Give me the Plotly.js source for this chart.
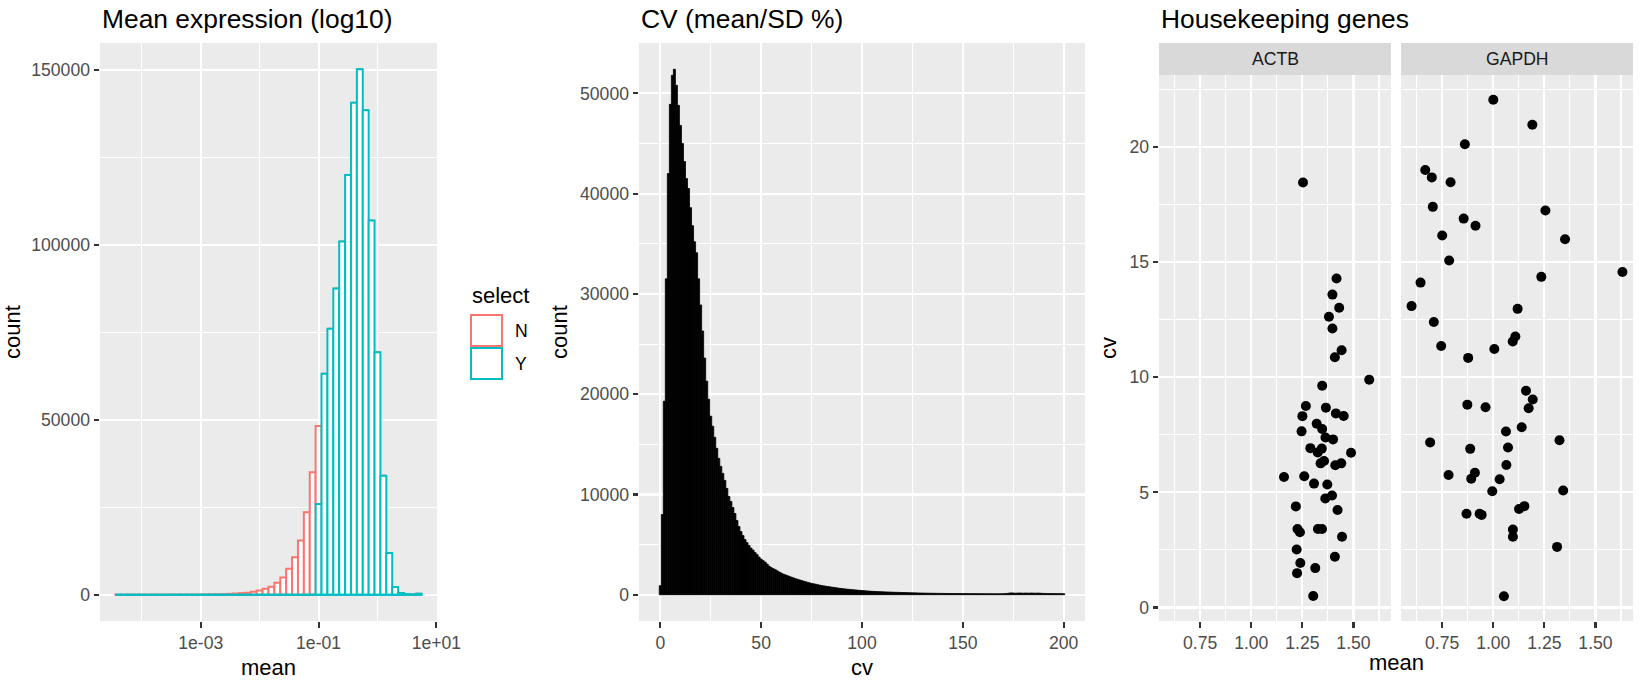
<!DOCTYPE html>
<html>
<head>
<meta charset="utf-8">
<script src="https://cdn.plot.ly/plotly-3.0.1.min.js"></script>
<style>
html,body{margin:0;padding:0;background:#fff;}
#chart{width:1642px;height:682px;}
</style>
</head>
<body>
<div id="chart"></div>
<script>
// ---------------- DATA ----------------
// Panel 1: histogram of log10(mean), bin centres (log10 units, bin width 0.1)
const meanBinCenters = [-4.4,-4.3,-4.2,-4.1,-4.0,-3.9,-3.8,-3.7,-3.6,-3.5,
  -3.4,-3.3,-3.2,-3.1,-3.0,-2.9,-2.8,-2.7,-2.6,-2.5,
  -2.4,-2.3,-2.2,-2.1,-2.0,-1.9,-1.8,-1.7,-1.6,-1.5,
  -1.4,-1.3,-1.2,-1.1,-1.0,-0.9,-0.8,-0.7,-0.6,-0.5,
  -0.4,-0.3,-0.2,-0.1,0.0,0.1,0.2,0.3,0.4,0.5,0.6,0.7];
const meanBinWidth = 0.1;
const countsN = [10,12,12,15,18,20,22,25,28,30,
  35,40,45,55,65,80,100,130,170,260,
  340,450,600,850,1200,1700,2300,3400,4900,7400,
  10700,15500,23600,35000,22300,0,0,0,0,0,
  0,0,0,0,0,0,0,0,0,0,0,0];
const countsY = [0,0,0,0,0,0,0,0,0,0,
  0,0,0,0,0,0,0,0,0,0,
  0,0,0,0,0,0,0,0,0,0,
  0,0,0,0,25900,63200,76000,87500,101000,120000,
  140600,150200,138500,107000,69300,34000,11900,2200,500,150,100,300];
const selectLevels = ['N','Y'];
const meanTickVals = [-3,-1,1];
const meanTickText = ['1e-03','1e-01','1e+01'];
const meanMinorVals = [-4,-2,0];
const count1TickVals = [0,50000,100000,150000];
const count1TickText = ['0','50000','100000','150000'];
const count1MinorVals = [25000,75000,125000];

// Panel 2: histogram of cv, bin centres 0..200 (bin width 1)
const cvBinWidth = 1;
const cvCounts = [900,8000,19300,31500,42000,48900,51800,52400,50800,48800,
  46800,45000,43200,41500,40500,38600,36800,35200,34100,31500,
  28900,26300,23600,21300,19500,17800,16800,15700,14600,13600,
  12800,12100,11400,10600,9800,9300,8700,8100,7400,6800,
  6300,5900,5500,5200,4900,4650,4450,4200,4000,3750,
  3550,3400,3250,3050,2850,2700,2600,2500,2380,2260,
  2150,2050,1980,1900,1830,1750,1680,1600,1540,1480,
  1420,1360,1300,1240,1180,1130,1090,1050,1000,960,
  920,880,850,820,790,760,730,700,670,640,
  615,590,570,545,525,505,490,470,450,430,
  415,400,385,370,355,340,330,320,310,300,
  292,284,276,268,260,253,246,240,234,228,
  222,215,208,202,196,190,185,180,175,170,
  166,160,156,152,148,144,140,138,135,132,
  130,128,126,124,122,120,118,116,115,114,
  112,110,108,106,105,104,103,102,100,100,
  98,97,96,95,95,94,94,93,93,95,
  100,110,130,160,180,170,150,160,175,165,
  150,170,160,155,170,160,150,165,155,140,
  130,125,120,118,115,112,110,108,105,103,100];
const cvBinCenters = cvCounts.map((_, i) => i);
const cvTickVals = [0,50,100,150,200];
const cvMinorVals = [25,75,125,175];
const count2TickVals = [0,10000,20000,30000,40000,50000];
const count2TickText = ['0','10000','20000','30000','40000','50000'];
const count2MinorVals = [5000,15000,25000,35000,45000];

// Panel 3: housekeeping genes (mean, cv)
const actbMean = [1.253,1.417,1.397,1.430,1.380,1.397,1.442,1.409,1.577,1.347,
  1.267,1.365,1.414,1.452,1.250,1.320,1.246,1.347,1.363,1.400,
  1.289,1.345,1.325,1.488,1.356,1.339,1.411,1.440,1.160,1.259,
  1.307,1.372,1.362,1.395,1.218,1.422,1.226,1.238,1.326,1.346,
  1.444,1.222,1.409,1.240,1.313,1.224,1.303];
const actbCv = [18.46,14.29,13.59,13.02,12.63,12.12,11.17,10.87,9.89,9.63,
  8.75,8.68,8.43,8.32,8.31,7.98,7.65,7.75,7.38,7.30,
  6.92,6.90,6.73,6.72,6.36,6.26,6.18,6.26,5.67,5.70,
  5.38,5.34,4.73,4.86,4.39,4.23,3.41,3.27,3.41,3.41,
  3.07,2.52,2.20,1.93,1.71,1.49,0.50];
const gapdhMean = [1.000,1.191,0.861,0.667,0.699,0.791,0.704,1.255,0.855,0.913,
  0.750,1.351,0.784,1.632,1.235,0.644,0.600,1.119,0.709,1.108,
  1.095,0.745,1.005,0.877,1.160,1.193,1.173,0.873,0.962,1.139,
  1.062,1.324,0.691,0.887,1.072,1.064,0.781,0.910,0.892,1.031,
  0.995,1.342,1.126,1.152,0.869,0.933,0.943,1.096,1.096,1.312,1.052];
const gapdhCv = [22.05,20.97,20.12,19.00,18.68,18.47,17.40,17.24,16.89,16.58,
  16.16,15.99,15.07,14.57,14.36,14.11,13.09,12.97,12.40,11.77,
  11.55,11.36,11.23,10.84,9.41,9.03,8.65,8.81,8.70,7.83,
  7.64,7.26,7.17,6.89,6.95,6.19,5.75,5.85,5.59,5.57,
  5.05,5.08,4.28,4.40,4.07,4.07,4.02,3.39,3.07,2.63,0.49];
const geneNames = ['ACTB','GAPDH'];
const hkTickVals = [0.75,1.00,1.25,1.50];
const hkTickText = ['0.75','1.00','1.25','1.50'];
const hkMinorVals = [0.625,0.875,1.125,1.375,1.625];
const cvTickVals3 = [0,5,10,15,20];
const cvMinorVals3 = [2.5,7.5,12.5,17.5,22.5];

// ---------------- STYLE / LAYOUT ----------------
const W = 1642, H = 682;
const px = v => v / W;
const py = v => 1 - v / H;
const FONT = 'Liberation Sans, Arial, Helvetica, sans-serif';
const colN = '#F8766D', colY = '#00BFC4';
const BG = '#EBEBEB';

function padRange(lo, hi) { const d = (hi - lo) * 0.05; return [lo - d, hi + d]; }

function axisBase(extra) {
  return Object.assign({
    showgrid: true, gridcolor: '#FFFFFF', gridwidth: 2.1,
    zeroline: false, showline: false,
    ticks: 'outside', ticklen: 5.5, tickwidth: 2.1, tickcolor: '#333333',
    tickfont: {family: FONT, size: 17.6, color: '#4D4D4D'},
    tickmode: 'array', fixedrange: true, automargin: false
  }, extra);
}
function minor(vals) {
  return {tickmode: 'array', tickvals: vals, showgrid: true, gridcolor: '#FFFFFF', gridwidth: 1.05, ticks: ''};
}

const x1Range = padRange(meanBinCenters[0] - meanBinWidth/2, meanBinCenters[meanBinCenters.length-1] + meanBinWidth/2);
const stackTop = countsN.map((n, i) => n + countsY[i]);
const y1Range = padRange(0, Math.max(...stackTop));
const x2Range = padRange(cvBinCenters[0] - cvBinWidth/2, cvBinCenters[cvBinCenters.length-1] + cvBinWidth/2);
const y2Range = padRange(0, Math.max(...cvCounts));
const allMean = actbMean.concat(gapdhMean), allCv = actbCv.concat(gapdhCv);
const x3Range = padRange(Math.min(...allMean), Math.max(...allMean));
const y3Range = padRange(Math.min(...allCv), Math.max(...allCv));

const titleFont = {family: FONT, size: 22, color: '#000000'};

const traces = [
  // N group (stacked above Y using explicit base)
  {type: 'bar', x: meanBinCenters, y: countsN, base: countsY, width: meanBinWidth,
   name: selectLevels[0], xaxis: 'x', yaxis: 'y',
   marker: {color: '#FFFFFF', line: {color: colN, width: 2}}, showlegend: false, hoverinfo: 'skip'},
  {type: 'bar', x: meanBinCenters, y: countsY, width: meanBinWidth,
   name: selectLevels[1], xaxis: 'x', yaxis: 'y',
   marker: {color: '#FFFFFF', line: {color: colY, width: 2}}, showlegend: false, hoverinfo: 'skip'},
  // zero-count baseline of the histogram bins
  {type: 'scatter', mode: 'lines', xaxis: 'x', yaxis: 'y',
   x: [meanBinCenters[0] - meanBinWidth/2, meanBinCenters[meanBinCenters.length-1] + meanBinWidth/2],
   y: [0, 0], line: {color: colY, width: 2}, showlegend: false, hoverinfo: 'skip'},
  // cv histogram
  {type: 'bar', x: cvBinCenters, y: cvCounts, width: cvBinWidth, xaxis: 'x2', yaxis: 'y2',
   marker: {color: '#000000', line: {color: '#000000', width: 0.8}}, showlegend: false, hoverinfo: 'skip'},
  // housekeeping genes
  {type: 'scatter', mode: 'markers', x: actbMean, y: actbCv, xaxis: 'x3', yaxis: 'y3', name: geneNames[0],
   marker: {color: '#000000', size: 10}, showlegend: false, cliponaxis: false},
  {type: 'scatter', mode: 'markers', x: gapdhMean, y: gapdhCv, xaxis: 'x4', yaxis: 'y4', name: geneNames[1],
   marker: {color: '#000000', size: 10}, showlegend: false, cliponaxis: false}
];

const yDomMain = [py(621), py(43)];
const yDomFacet = [py(621), py(75)];

const layout = {
  width: W, height: H,
  margin: {l: 0, r: 0, t: 0, b: 0},
  paper_bgcolor: '#FFFFFF', plot_bgcolor: BG,
  font: {family: FONT, color: '#000000'},
  barmode: 'overlay', bargap: 0,
  showlegend: false,
  xaxis: axisBase({domain: [px(100), px(437)], anchor: 'y', range: x1Range,
    tickvals: meanTickVals, ticktext: meanTickText, minor: minor(meanMinorVals),
    title: {text: 'mean', font: titleFont, standoff: 7}}),
  yaxis: axisBase({domain: yDomMain, anchor: 'x', range: y1Range,
    tickvals: count1TickVals, ticktext: count1TickText, minor: minor(count1MinorVals),
    title: {text: 'count', font: titleFont, standoff: 6}}),
  xaxis2: axisBase({domain: [px(639), px(1085)], anchor: 'y2', range: x2Range,
    tickvals: cvTickVals, ticktext: cvTickVals.map(String), minor: minor(cvMinorVals),
    title: {text: 'cv', font: titleFont, standoff: 7}}),
  yaxis2: axisBase({domain: yDomMain, anchor: 'x2', range: y2Range,
    tickvals: count2TickVals, ticktext: count2TickText, minor: minor(count2MinorVals),
    title: {text: 'count', font: titleFont, standoff: 6}}),
  xaxis3: axisBase({domain: [px(1159), px(1391)], anchor: 'y3', range: x3Range,
    tickvals: hkTickVals, ticktext: hkTickText, minor: minor(hkMinorVals)}),
  yaxis3: axisBase({domain: yDomFacet, anchor: 'x3', range: y3Range,
    tickvals: cvTickVals3, ticktext: cvTickVals3.map(String), minor: minor(cvMinorVals3),
    title: {text: 'cv', font: titleFont, standoff: 6}}),
  xaxis4: axisBase({domain: [px(1401), px(1633)], anchor: 'y4', range: x3Range,
    tickvals: hkTickVals, ticktext: hkTickText, minor: minor(hkMinorVals)}),
  yaxis4: axisBase({domain: yDomFacet, anchor: 'x4', range: y3Range,
    tickvals: cvTickVals3, ticktext: cvTickVals3.map(String), minor: minor(cvMinorVals3),
    showticklabels: false, ticks: ''}),
  shapes: [
    // facet strips
    {type: 'rect', xref: 'x3 domain', yref: 'paper', x0: 0, x1: 1, y0: py(75), y1: py(43),
     fillcolor: '#D9D9D9', line: {width: 0}, layer: 'below'},
    {type: 'rect', xref: 'x4 domain', yref: 'paper', x0: 0, x1: 1, y0: py(75), y1: py(43),
     fillcolor: '#D9D9D9', line: {width: 0}, layer: 'below'},
    // legend keys
    {type: 'rect', xref: 'paper', yref: 'paper', x0: px(471), x1: px(502), y0: py(346), y1: py(315),
     fillcolor: '#FFFFFF', line: {color: colN, width: 2}},
    {type: 'rect', xref: 'paper', yref: 'paper', x0: px(471), x1: px(502), y0: py(379), y1: py(348),
     fillcolor: '#FFFFFF', line: {color: colY, width: 2}}
  ],
  annotations: [
    {text: 'Mean expression (log10)', xref: 'paper', yref: 'paper', x: px(100), y: py(19),
     xanchor: 'left', yanchor: 'middle', showarrow: false, font: {family: FONT, size: 26.4, color: '#000'}},
    {text: 'CV (mean/SD %)', xref: 'paper', yref: 'paper', x: px(639), y: py(19),
     xanchor: 'left', yanchor: 'middle', showarrow: false, font: {family: FONT, size: 26.4, color: '#000'}},
    {text: 'Housekeeping genes', xref: 'paper', yref: 'paper', x: px(1159), y: py(19),
     xanchor: 'left', yanchor: 'middle', showarrow: false, font: {family: FONT, size: 26.4, color: '#000'}},
    {text: geneNames[0], xref: 'x3 domain', yref: 'paper', x: 0.5, y: py(59),
     xanchor: 'center', yanchor: 'middle', showarrow: false, font: {family: FONT, size: 17.6, color: '#1A1A1A'}},
    {text: geneNames[1], xref: 'x4 domain', yref: 'paper', x: 0.5, y: py(59),
     xanchor: 'center', yanchor: 'middle', showarrow: false, font: {family: FONT, size: 17.6, color: '#1A1A1A'}},
    {text: 'mean', xref: 'paper', yref: 'paper', x: px(1396), y: py(662),
     xanchor: 'center', yanchor: 'middle', showarrow: false, font: titleFont},
    // legend
    {text: 'select', xref: 'paper', yref: 'paper', x: px(470), y: py(295),
     xanchor: 'left', yanchor: 'middle', showarrow: false, font: titleFont},
    {text: selectLevels[0], xref: 'paper', yref: 'paper', x: px(513), y: py(331),
     xanchor: 'left', yanchor: 'middle', showarrow: false, font: {family: FONT, size: 17.6, color: '#000'}},
    {text: selectLevels[1], xref: 'paper', yref: 'paper', x: px(513), y: py(364),
     xanchor: 'left', yanchor: 'middle', showarrow: false, font: {family: FONT, size: 17.6, color: '#000'}}
  ]
};

Plotly.newPlot('chart', traces, layout, {staticPlot: true, displayModeBar: false});
</script>
</body>
</html>
